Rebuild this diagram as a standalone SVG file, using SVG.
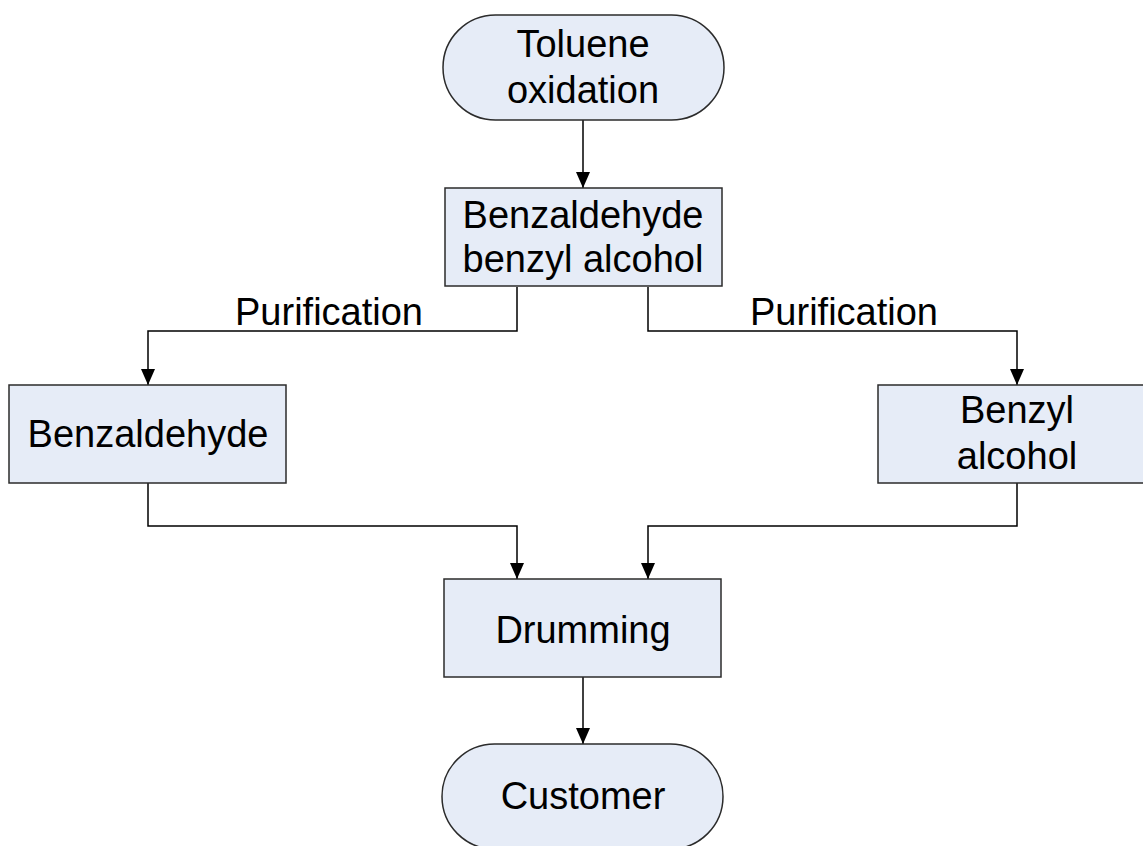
<svg xmlns="http://www.w3.org/2000/svg" width="1143" height="846" viewBox="0 0 1143 846">
<defs>
<style>
.node{fill:#E6ECF7;stroke:#2b2b2b;stroke-width:1.5}
.t{font-family:"Liberation Sans",Arial,sans-serif;font-size:38px;fill:#000;text-anchor:middle}
.c{fill:none;stroke:#000;stroke-width:1.5}
</style>
<marker id="ah" viewBox="0 0 16 14" markerWidth="16" markerHeight="14" refX="16" refY="7" orient="auto" markerUnits="userSpaceOnUse">
<path d="M0,0 L16,7 L0,14 z" fill="#000"/>
</marker>
</defs>
<rect width="1143" height="846" fill="#fff"/>
<g id="connectors">
<path class="c" d="M583,120 V188" marker-end="url(#ah)"/>
<path class="c" d="M517,287 V331 H148 V385" marker-end="url(#ah)"/>
<path class="c" d="M648,287 V331 H1017 V385" marker-end="url(#ah)"/>
<path class="c" d="M148,483 V526 H517 V579" marker-end="url(#ah)"/>
<path class="c" d="M1017,483 V526 H648 V579" marker-end="url(#ah)"/>
<path class="c" d="M583,677 V744" marker-end="url(#ah)"/>
<text class="t" x="329" y="325">Purification</text>
<text class="t" x="844" y="325">Purification</text>
</g>
<g id="toluene">
<rect class="node" x="443" y="15" width="281" height="105" rx="52.5" ry="52.5"/>
<text class="t" x="583" y="57">Toluene</text>
<text class="t" x="583" y="103">oxidation</text>
</g>
<g id="mix">
<rect class="node" x="445" y="188" width="277" height="98"/>
<text class="t" x="583" y="228">Benzaldehyde</text>
<text class="t" x="583" y="272">benzyl alcohol</text>
</g>
<g id="benzaldehyde">
<rect class="node" x="9" y="385" width="277" height="98"/>
<text class="t" x="148" y="447">Benzaldehyde</text>
</g>
<g id="benzylalcohol">
<rect class="node" x="878" y="385" width="278" height="98"/>
<text class="t" x="1017" y="423">Benzyl</text>
<text class="t" x="1017" y="469">alcohol</text>
</g>
<g id="drumming">
<rect class="node" x="444" y="579" width="277" height="98"/>
<text class="t" x="583" y="643">Drumming</text>
</g>
<g id="customer">
<rect class="node" x="442" y="744" width="281" height="105" rx="52.5" ry="52.5"/>
<text class="t" x="583" y="809">Customer</text>
</g>
</svg>
